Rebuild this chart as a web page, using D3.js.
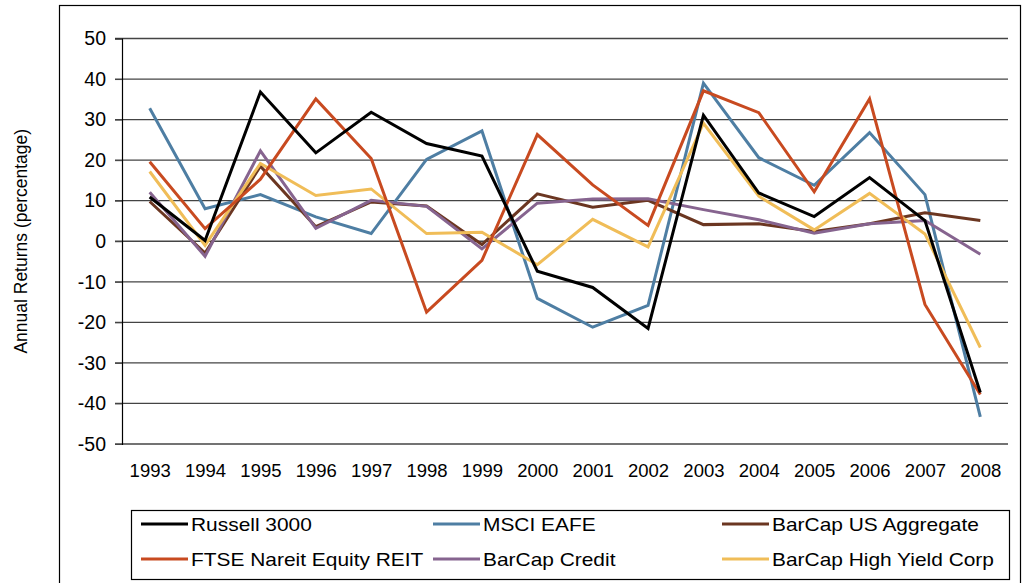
<!DOCTYPE html>
<html>
<head>
<meta charset="utf-8">
<script src="https://cdn.jsdelivr.net/npm/d3@7"></script>
<style>
  html, body { margin: 0; padding: 0; background: #fff; }
  svg { display: block; font-family: "Liberation Sans", Arial, sans-serif; }
</style>
</head>
<body>
<svg id="chart" width="1022" height="583"></svg>
<script>
const years = ["1993","1994","1995","1996","1997","1998","1999","2000","2001","2002","2003","2004","2005","2006","2007","2008"];
const yTicks = [50, 40, 30, 20, 10, 0, -10, -20, -30, -40, -50];
const russell3000 = [10.9, 0.2, 36.8, 21.8, 31.8, 24.1, 21.0, -7.4, -11.4, -21.5, 31.1, 11.9, 6.1, 15.7, 5.1, -37.3];
const msciEafe = [32.8, 8.0, 11.5, 6.0, 1.9, 20.2, 27.2, -14.1, -21.2, -15.8, 39.0, 20.6, 13.8, 26.8, 11.5, -43.3];
const ftseNareit = [19.6, 3.1, 15.3, 35.1, 20.4, -17.5, -4.7, 26.3, 13.9, 3.9, 37.1, 31.7, 12.2, 35.1, -15.6, -37.8];
const barcapAgg = [9.8, -2.9, 18.5, 3.6, 9.7, 8.7, -0.8, 11.7, 8.4, 10.1, 4.1, 4.3, 2.4, 4.3, 7.0, 5.1];
const barcapCredit = [12.1, -3.7, 22.3, 3.2, 10.1, 8.6, -1.9, 9.4, 10.4, 10.5, 7.8, 5.3, 2.0, 4.3, 5.1, -3.2];
const barcapHY = [17.2, -1.0, 19.2, 11.3, 12.9, 1.9, 2.2, -5.8, 5.4, -1.4, 29.1, 11.1, 2.8, 11.8, 1.8, -26.2];
const seriesNames = ["Russell 3000", "MSCI EAFE", "BarCap US Aggregate", "FTSE Nareit Equity REIT", "BarCap Credit", "BarCap High Yield Corp"];
const seriesValues = [russell3000, msciEafe, barcapAgg, ftseNareit, barcapCredit, barcapHY];
const seriesColors = ["#000000", "#4e7ea3", "#6b3621", "#c84a20", "#86648f", "#f0bd58"];
// drawing order (back to front)
const drawOrder = [1, 2, 4, 5, 3, 0];

const svg = d3.select("#chart");
const L = 122, R = 1008, T = 38.5, B = 444;

// outer border
svg.append("rect").attr("x", 59.5).attr("y", 5.5).attr("width", 961).attr("height", 600)
  .attr("fill", "none").attr("stroke", "#000").attr("stroke-width", 1.2);

const x = d3.scalePoint().domain(years).range([L, R]).padding(0.5);
const y = d3.scaleLinear().domain([-50, 50]).range([B, T]);

// gridlines
svg.append("g").selectAll("line").data(yTicks).join("line")
  .attr("x1", L - 7).attr("x2", R)
  .attr("y1", d => y(d)).attr("y2", d => y(d))
  .attr("stroke", "#444").attr("stroke-width", 1.3);

// y axis
const yAxis = d3.axisLeft(y).tickValues(yTicks).tickSize(7).tickPadding(9).tickFormat(d => String(d));
const gy = svg.append("g").attr("transform", `translate(${L},0)`).call(yAxis);
gy.select(".domain").attr("stroke", "#000").attr("stroke-width", 1.2);
gy.selectAll(".tick line").attr("stroke", "#444");
gy.selectAll("text").attr("font-size", 19.5).attr("fill", "#000").attr("font-family", "Liberation Sans, Arial, sans-serif");

// x axis labels
const xAxis = d3.axisBottom(x).tickSize(0).tickPadding(20);
const gx = svg.append("g").attr("transform", `translate(0,${B})`).call(xAxis);
gx.select(".domain").remove();
gx.selectAll("text").attr("font-size", 18.5).attr("fill", "#000").attr("font-family", "Liberation Sans, Arial, sans-serif");

// y title
svg.append("text").attr("transform", `translate(27,${(T + B) / 2}) rotate(-90)`)
  .attr("text-anchor", "middle").attr("font-size", 17.5).attr("fill", "#000")
  .text("Annual Returns (percentage)");

// lines
const line = d3.line().x((d, i) => x(years[i])).y(d => y(d));
svg.append("g").selectAll("path").data(drawOrder).join("path")
  .attr("d", i => line(seriesValues[i]))
  .attr("fill", "none").attr("stroke", i => seriesColors[i])
  .attr("stroke-width", 3).attr("stroke-linejoin", "miter");

// legend
svg.append("rect").attr("x", 131.5).attr("y", 510.5).attr("width", 878).attr("height", 69)
  .attr("fill", "#fff").attr("stroke", "#000").attr("stroke-width", 1.2);
const colX = [141, 433, 722];
const rowY = [524, 559];
const lg = svg.append("g").selectAll("g").data(seriesNames).join("g")
  .attr("transform", (d, i) => `translate(${colX[i % 3]},${rowY[Math.floor(i / 3)]})`);
lg.append("line").attr("x1", 0).attr("x2", 47).attr("y1", 0).attr("y2", 0)
  .attr("stroke", (d, i) => seriesColors[i]).attr("stroke-width", 3);
lg.append("text").attr("x", 50).attr("y", 6.5).attr("font-size", 18.5).attr("fill", "#000").text(d => d)
  .each(function () {
    const w = this.getComputedTextLength();
    d3.select(this).attr("textLength", w * 1.13).attr("lengthAdjust", "spacingAndGlyphs");
  });
</script>
</body>
</html>
